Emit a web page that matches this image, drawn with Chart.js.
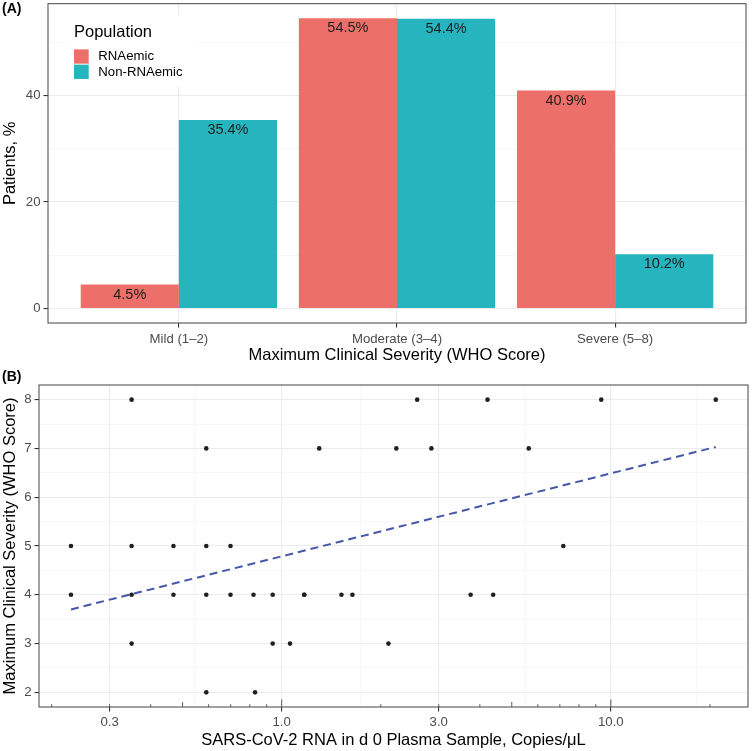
<!DOCTYPE html>
<html>
<head>
<meta charset="utf-8">
<script src="https://cdn.jsdelivr.net/npm/chart.js@4.4.1/dist/chart.umd.min.js"></script>
<style>
  html, body { margin: 0; padding: 0; background: #fff; }
  #wrap { position: relative; width: 752px; height: 751px; font-family: "Liberation Sans", Arial, sans-serif; }
  canvas { position: absolute; left: 0; }
  .tag { position: absolute; left: 2px; font-weight: bold; font-size: 14px; line-height: 1; color: #000; }
</style>
</head>
<body>
<div id="wrap">
  <canvas id="barChart" width="752" height="365" style="top:0"></canvas>
  <canvas id="scatterChart" width="752" height="386" style="top:365px"></canvas>
  <div class="tag" style="top:1px">(A)</div>
  <div class="tag" style="top:369px">(B)</div>
</div>
<script>
// ---- panel A data
const severityLabels = ['Mild (1–2)', 'Moderate (3–4)', 'Severe (5–8)'];
const rnaemicPct = [4.5, 54.5, 40.9];
const nonRnaemicPct = [35.4, 54.4, 10.2];
const pctTicks = [0, 20, 40];

// ---- panel B data
const rnaCopies = [
  0.350, 2.58, 4.22, 9.35, 20.83,
  0.590, 1.30, 2.23, 2.85, 5.63,
  0.229, 0.350, 0.469, 0.590, 0.699, 7.17,
  0.229, 0.350, 0.469, 0.590, 0.699, 0.821, 0.939, 1.171, 1.171, 1.519, 1.640, 3.75, 4.39,
  0.350, 0.939, 1.060, 2.11,
  0.590, 0.830
];
const whoScore = [
  8, 8, 8, 8, 8,
  7, 7, 7, 7, 7,
  5, 5, 5, 5, 5, 5,
  4, 4, 4, 4, 4, 4, 4, 4, 4, 4, 4, 4, 4,
  3, 3, 3, 3,
  2, 2
];
const fitCopies = [0.229, 20.83];
const fitScore = [3.70, 7.03];
const copiesTicks = [0.3, 1, 3, 10];
const scoreTicks = [2, 3, 4, 5, 6, 7, 8];
const logTickMarks = [0.2, 0.3, 0.4, 0.5, 0.6, 0.7, 0.8, 0.9, 1, 2, 3, 4, 5, 6, 7, 8, 9, 10, 20];

const FONT = '"Liberation Sans", Arial, sans-serif';
Chart.defaults.font.family = FONT;
Chart.defaults.color = '#4D4D4D';

const RED = '#EC6F6A';
const TEAL = '#26B5BF';
const GRID = '#EBEBEB';
const GRID_MINOR = '#F2F2F2';

// ggplot style minor breaks: midpoints between majors (one step extended past each end)
const minorBreaks = (major, lo, hi, toT, fromT) => {
  const t = major.map(toT);
  const step = t[1] - t[0];
  const ext = [t[0] - step, ...t, t[t.length - 1] + step];
  const out = [];
  for (let i = 0; i < ext.length - 1; i++) {
    const v = fromT((ext[i] + ext[i + 1]) / 2);
    if (v > lo && v < hi) out.push(v);
  }
  return out;
};
const ident = v => v;
const isIn = (arr, v) => arr.some(a => Math.abs(a - v) < 1e-9);

const panelBorder = {
  id: 'panelBorder',
  afterDraw(chart) {
    const { ctx, chartArea: a } = chart;
    ctx.save();
    ctx.strokeStyle = '#555';
    ctx.lineWidth = 1.1;
    ctx.strokeRect(a.left, a.top, a.right - a.left, a.bottom - a.top);
    ctx.restore();
  }
};

const barLabels = {
  id: 'barLabels',
  afterDatasetsDraw(chart) {
    const { ctx } = chart;
    ctx.save();
    ctx.fillStyle = '#1E1E1E';
    ctx.font = '14.5px ' + FONT;
    ctx.textAlign = 'center';
    ctx.textBaseline = 'middle';
    chart.data.datasets.forEach((ds, i) => {
      chart.getDatasetMeta(i).data.forEach((bar, j) => {
        ctx.fillText(ds.data[j].y.toFixed(1) + '%', bar.x, bar.y + 10);
      });
    });
    ctx.restore();
  }
};

const insideLegend = {
  id: 'insideLegend',
  afterDraw(chart) {
    const { ctx, chartArea: a } = chart;
    const x = a.left + 26, y = a.top + 29;
    ctx.save();
    ctx.fillStyle = '#fff';
    ctx.fillRect(x - 8, y - 16, 132, 70);
    ctx.fillStyle = '#000';
    ctx.font = '16.5px ' + FONT;
    ctx.textBaseline = 'middle';
    ctx.fillText('Population', x, y);
    ctx.font = '13.2px ' + FONT;
    chart.data.datasets.forEach((ds, i) => {
      const ky = y + 16.7 + i * 15.3;
      ctx.fillStyle = ds.backgroundColor;
      ctx.fillRect(x, ky, 14.7, 14.3);
      ctx.fillStyle = '#000';
      ctx.fillText(ds.label, x + 24.3, ky + 7.4);
    });
    ctx.restore();
  }
};

const logTicks = {
  id: 'logTicks',
  afterDatasetsDraw(chart) {
    const { ctx, chartArea: a } = chart;
    const s = chart.scales.x;
    ctx.save();
    ctx.strokeStyle = '#333';
    ctx.lineWidth = 0.8;
    logTickMarks.forEach(v => {
      const m = v / Math.pow(10, Math.floor(Math.log10(v) + 1e-9));
      const len = Math.abs(m - 1) < 1e-6 ? 7.5 : Math.abs(m - 5) < 1e-6 ? 5 : 2.8;
      const px = s.getPixelForValue(v);
      ctx.beginPath();
      ctx.moveTo(px, a.bottom);
      ctx.lineTo(px, a.bottom - len);
      ctx.stroke();
    });
    ctx.restore();
  }
};

// ---- panel A
const pctMin = -2.725, pctMax = 57.225;
const pctMinor = minorBreaks(pctTicks, pctMin, pctMax, ident, ident);
const pctAll = [...pctTicks, ...pctMinor].sort((a, b) => a - b);

new Chart(document.getElementById('barChart'), {
  type: 'bar',
  data: {
    datasets: [
      { label: 'RNAemic', data: rnaemicPct.map((v, i) => ({ x: i + 1, y: v })), backgroundColor: RED },
      { label: 'Non-RNAemic', data: nonRnaemicPct.map((v, i) => ({ x: i + 1, y: v })), backgroundColor: TEAL }
    ]
  },
  options: {
    responsive: false,
    animation: false,
    layout: { padding: { top: 2, right: 6, left: 0, bottom: 0 } },
    datasets: { bar: { categoryPercentage: 0.9, barPercentage: 1 } },
    plugins: { legend: { display: false }, tooltip: { enabled: false } },
    scales: {
      x: {
        type: 'linear', min: 0.4, max: 3.6, offset: false,
        afterBuildTicks: s => { s.ticks = severityLabels.map((_, i) => ({ value: i + 1 })); },
        afterFit: s => { s.height = 42; },
        ticks: { callback: v => severityLabels[v - 1], font: { size: 13.2 }, color: '#4D4D4D', padding: 4, autoSkip: false, maxRotation: 0 },
        grid: { offset: false, color: GRID, lineWidth: 1.1, tickLength: 4.5, tickColor: '#333', tickWidth: 1.1 },
        border: { display: false },
        title: { display: true, text: 'Maximum Clinical Severity (WHO Score)', color: '#000', font: { size: 16.5, lineHeight: 1 }, padding: { top: 0, bottom: 1 } }
      },
      y: {
        min: pctMin, max: pctMax,
        afterBuildTicks: s => { s.ticks = pctAll.map(v => ({ value: v })); },
        afterFit: s => { s.width = 48; },
        ticks: { callback: v => isIn(pctTicks, v) ? String(v) : '', font: { size: 13.2, lineHeight: 0.1 }, color: '#4D4D4D', padding: 3 },
        grid: {
          color: c => isIn(pctTicks, c.tick.value) ? GRID : GRID_MINOR,
          lineWidth: c => isIn(pctTicks, c.tick.value) ? 1.1 : 0.6,
          tickColor: c => isIn(pctTicks, c.tick.value) ? '#333' : 'rgba(0,0,0,0)',
          tickLength: 4.5, tickWidth: 1.1
        },
        border: { display: false },
        title: { display: true, text: 'Patients, %', color: '#000', font: { size: 16.5, lineHeight: 1 }, padding: { top: 2.5, bottom: 0 } }
      }
    }
  },
  plugins: [barLabels, panelBorder, insideLegend]
});

// ---- panel B
const copiesMin = 0.1831, copiesMax = 26.1;
const copiesMinor = minorBreaks(copiesTicks, copiesMin, copiesMax, Math.log10, t => Math.pow(10, t));
const copiesAll = [...copiesTicks, ...copiesMinor].sort((a, b) => a - b);
const scoreMin = 1.7, scoreMax = 8.3;
const scoreMinor = minorBreaks(scoreTicks, scoreMin, scoreMax, ident, ident);
const scoreAll = [...scoreTicks, ...scoreMinor].sort((a, b) => a - b);

new Chart(document.getElementById('scatterChart'), {
  type: 'scatter',
  data: {
    datasets: [
      {
        data: rnaCopies.map((x, i) => ({ x, y: whoScore[i] })),
        pointRadius: 2.3, pointBackgroundColor: '#1F1F1F', pointBorderWidth: 0
      },
      {
        type: 'line',
        data: fitCopies.map((x, i) => ({ x, y: fitScore[i] })),
        borderColor: '#4657A8', borderWidth: 2, borderDash: [8, 5],
        pointRadius: 0, fill: false, tension: 0
      }
    ]
  },
  options: {
    responsive: false,
    animation: false,
    layout: { padding: { top: 20, right: 2, left: 0, bottom: 0 } },
    plugins: { legend: { display: false }, tooltip: { enabled: false } },
    scales: {
      x: {
        type: 'logarithmic', min: copiesMin, max: copiesMax,
        afterBuildTicks: s => { s.ticks = copiesAll.map(v => ({ value: v })); },
        afterFit: s => { s.height = 44; },
        ticks: { callback: v => isIn(copiesTicks, v) ? v.toFixed(1) : '', font: { size: 13.2 }, color: '#4D4D4D', padding: 3, autoSkip: false, maxRotation: 0 },
        grid: {
          color: c => isIn(copiesTicks, c.tick.value) ? GRID : GRID_MINOR,
          lineWidth: c => isIn(copiesTicks, c.tick.value) ? 1.1 : 0.6,
          tickColor: c => isIn(copiesTicks, c.tick.value) ? '#333' : 'rgba(0,0,0,0)',
          tickLength: 4.5, tickWidth: 1.1
        },
        border: { display: false },
        title: { display: true, text: 'SARS-CoV-2 RNA in d 0 Plasma Sample, Copies/μL', color: '#000', font: { size: 16.5, lineHeight: 1 }, padding: { top: 0, bottom: 2.75 } }
      },
      y: {
        min: scoreMin, max: scoreMax,
        afterBuildTicks: s => { s.ticks = scoreAll.map(v => ({ value: v })); },
        afterFit: s => { s.width = 39; },
        ticks: { callback: v => isIn(scoreTicks, v) ? String(v) : '', font: { size: 13.2, lineHeight: 0.1 }, color: '#4D4D4D', padding: 3 },
        grid: {
          color: c => isIn(scoreTicks, c.tick.value) ? GRID : GRID_MINOR,
          lineWidth: c => isIn(scoreTicks, c.tick.value) ? 1.1 : 0.6,
          tickColor: c => isIn(scoreTicks, c.tick.value) ? '#333' : 'rgba(0,0,0,0)',
          tickLength: 4.5, tickWidth: 1.1
        },
        border: { display: false },
        title: { display: true, text: 'Maximum Clinical Severity (WHO Score)', color: '#000', font: { size: 16.5, lineHeight: 1 }, padding: { top: 2, bottom: 0 } }
      }
    }
  },
  plugins: [logTicks, panelBorder]
});
</script>
</body>
</html>
